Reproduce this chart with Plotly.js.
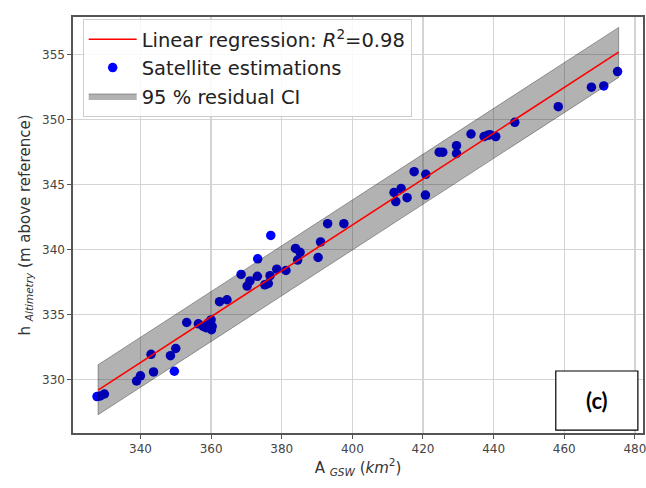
<!DOCTYPE html>
<html>
<head>
<meta charset="utf-8">
<script src="https://cdn.plot.ly/plotly-3.0.1.min.js"></script>
<style>html,body{margin:0;padding:0;background:#fff;}#chart{width:646px;height:488px;}</style>
</head>
<body>
<div id="chart"></div>
<script>
// Satellite estimations
const areaGSW = [327.7, 328.6, 329.8, 338.9, 340.0, 343.0, 343.7, 348.5, 350.0, 349.6,
  353.1, 356.4, 357.8, 358.6, 359.3, 360.0, 360.3, 360.1, 362.4, 364.5,
  368.5, 370.2, 371.0, 373.1, 373.2, 375.2, 376.2, 376.7, 376.9, 378.6,
  381.2, 383.9, 385.2, 384.5, 390.3, 391.0, 393.0, 397.6, 411.8, 412.3,
  413.8, 415.5, 417.5, 420.8, 420.7, 424.6, 425.6, 429.5, 429.5, 433.6,
  437.3, 438.3, 439.0, 440.6, 446.0, 458.3, 467.7, 471.2, 475.1];
const hAltimetry = [328.7, 328.75, 328.9, 329.9, 330.3, 331.95, 330.6, 331.85, 332.4, 330.65,
  334.4, 334.3, 334.1, 334.0, 334.4, 334.6, 334.1, 333.85, 336.0, 336.15,
  338.1, 337.2, 337.6, 337.95, 339.3, 337.3, 337.4, 338.0, 341.1, 338.5,
  338.4, 340.1, 339.8, 339.2, 339.4, 340.6, 342.0, 342.0, 344.4, 343.7,
  344.7, 344.0, 346.0, 345.8, 344.2, 347.5, 347.5, 348.0, 347.4, 348.9,
  348.7, 348.8, 348.85, 348.7, 349.8, 351.0, 352.5, 352.6, 353.7];
// Linear regression end points and 95 % residual CI
const regX = [328.0, 475.4];
const regY = [329.2, 355.2];
const ciUpper = [331.15, 357.1];
const ciLower = [327.3, 353.25];
// Axis ticks
const xTicks = [340, 360, 380, 400, 420, 440, 460, 480];
const yTicks = [330, 335, 340, 345, 350, 355];

const bandX = [regX[0], regX[1], regX[1], regX[0], regX[0]];
const bandY = [ciLower[0], ciLower[1], ciUpper[1], ciUpper[0], ciLower[0]];

const FONT = 'DejaVu Sans, sans-serif';

const traces = [
  {
    x: areaGSW, y: hAltimetry, type: 'scatter', mode: 'markers',
    name: 'Satellite estimations', legendrank: 2,
    marker: {color: '#0000ff', size: 9.5, line: {width: 0}}
  },
  {
    x: bandX, y: bandY, type: 'scatter', mode: 'lines', fill: 'toself',
    name: '95 % residual CI', legendrank: 3,
    fillcolor: 'rgba(0,0,0,0.30)',
    line: {color: 'rgba(0,0,0,0.33)', width: 1}
  },
  {
    x: regX, y: regY, type: 'scatter', mode: 'lines',
    name: 'Linear regression: <i>R</i><sup>2</sup>=0.98', legendrank: 1,
    line: {color: '#ff0000', width: 1.6}
  }
];

const axisCommon = {
  showgrid: true, gridcolor: '#d4d4d4', gridwidth: 1.3,
  zeroline: false,
  showline: true, linecolor: '#555', linewidth: 1.6, mirror: true,
  ticks: 'outside', ticklen: 4, tickcolor: '#555', tickwidth: 1,
  tickfont: {family: FONT, size: 12, color: '#444'},
  ticklabeloverflow: 'allow'
};

const layout = {
  width: 646, height: 488,
  margin: {l: 73, r: 3, t: 17, b: 55},
  paper_bgcolor: '#fff', plot_bgcolor: '#fff',
  font: {family: FONT, color: '#333'},
  showlegend: true,
  legend: {
    x: 0.017, y: 0.995, xanchor: 'left', yanchor: 'top',
    bgcolor: 'rgba(255,255,255,0.85)', bordercolor: '#cccccc', borderwidth: 1,
    font: {family: FONT, size: 19.5, color: '#222'},
    traceorder: 'normal', itemwidth: 48
  },
  xaxis: Object.assign({}, axisCommon, {
    range: [320.9, 482.3], tickvals: xTicks,
    title: {text: 'A <sub><i>GSW</i></sub> (<i>km</i><sup>2</sup>)', font: {family: FONT, size: 15, color: '#333'}, standoff: 7}
  }),
  yaxis: Object.assign({}, axisCommon, {
    range: [325.9, 357.9], tickvals: yTicks,
    title: {text: 'h <sub><i>Altimetry</i></sub> (m above reference)', font: {family: FONT, size: 15, color: '#333'}, standoff: 8}
  }),
  shapes: [
    {type: 'rect', xref: 'paper', yref: 'paper', x0: 0.847, x1: 0.991, y0: 0.007, y1: 0.149,
     line: {color: '#000', width: 1.2}, fillcolor: '#fff', layer: 'above'}
  ],
  annotations: [
    {xref: 'paper', yref: 'paper', x: 0.919, y: 0.078, text: '<b>(c)</b>', showarrow: false,
     font: {family: 'Lato, Open Sans, sans-serif', size: 22, color: '#000'}, xanchor: 'center', yanchor: 'middle'}
  ]
};

Plotly.newPlot('chart', traces, layout, {displayModeBar: false, staticPlot: true});
</script>
</body>
</html>
